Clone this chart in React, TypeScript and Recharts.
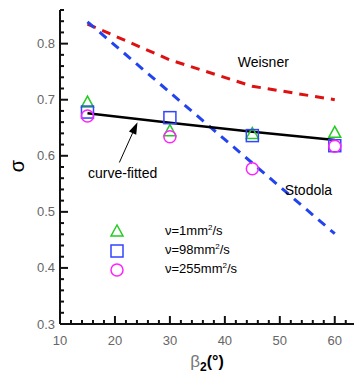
import {
  ComposedChart, Line, Scatter, XAxis, YAxis, ReferenceDot, ReferenceLine, Label,
} from 'recharts'

// blade outlet angle beta2 (deg)
const beta2 = [15, 30, 45, 60]

// correlations
const weisner = [0.835, 0.771, 0.724, 0.7]
const stodolaX = [15, 60]
const stodola = [0.839, 0.461]
const curveFitted = [0.676, 0.659, 0.643, 0.628]

// measured slip factor for three viscosities
const nu1 = [0.694, 0.643, 0.638, 0.64]
const nu98 = [0.678, 0.668, 0.636, 0.618]
const nu255 = [0.671, 0.634, 0.577, 0.617]

const xTicks = [10, 12, 14, 16, 18, 20, 22, 24, 26, 28, 30, 32, 34, 36, 38, 40, 42, 44, 46, 48, 50, 52, 54, 56, 58, 60, 62]
const yTicks = [0.3, 0.32, 0.34, 0.36, 0.38, 0.4, 0.42, 0.44, 0.46, 0.48, 0.5, 0.52, 0.54, 0.56, 0.58, 0.6, 0.62, 0.64, 0.66, 0.68, 0.7, 0.72, 0.74, 0.76, 0.78, 0.8, 0.82, 0.84, 0.86]

const toPts = (xs: number[], ys: number[]) => xs.map((x, i) => ({ x, y: ys[i] }))

const FONT = '"Liberation Sans", Arial, sans-serif'

const Triangle = ({ cx, cy }: any) => (
  <polygon points={`${cx},${cy - 7} ${cx - 6},${cy + 4} ${cx + 6},${cy + 4}`} fill="none" stroke="#22cc22" strokeWidth={1.5} />
)
const Square = ({ cx, cy }: any) => (
  <rect x={cx - 6} y={cy - 6} width={12} height={12} fill="none" stroke="#3344ff" strokeWidth={1.5} />
)
const Circle = ({ cx, cy }: any) => (
  <circle cx={cx} cy={cy} r={6} fill="none" stroke="#ff22ff" strokeWidth={1.5} />
)

const YTick = ({ x, y, payload }: any) => {
  const v = payload.value
  const major = Math.abs(v * 10 - Math.round(v * 10)) < 1e-6
  return (
    <g>
      <path d={`M${x},${y}H${x + (major ? 8 : 4)}`} stroke="#111" strokeWidth={2} fill="none" />
      {major && (
        <text x={x - 5} y={y} textAnchor="end" dominantBaseline="central" fill="#666" fontSize={13} fontFamily={FONT}>
          {v.toFixed(1)}
        </text>
      )}
    </g>
  )
}

const XTick = ({ x, y, payload }: any) => {
  const v = payload.value
  const major = v % 10 === 0
  return (
    <g>
      <path d={`M${x},${y}V${y - (major ? 8 : 4)}`} stroke="#111" strokeWidth={2} fill="none" />
      {major && (
        <text x={x} y={y + 16} textAnchor="middle" dominantBaseline="central" fill="#666" fontSize={13} fontFamily={FONT}>
          {v}
        </text>
      )}
    </g>
  )
}

const Arrow = ({ x1, y1, x2, y2 }: any) => {
  const ang = Math.atan2(y2 - y1, x2 - x1)
  const len = 12
  const w = 4
  const bx = x2 - len * Math.cos(ang)
  const by = y2 - len * Math.sin(ang)
  const px = -Math.sin(ang) * w
  const py = Math.cos(ang) * w
  return (
    <g>
      <path d={`M${x1},${y1}L${bx},${by}`} stroke="#000" strokeWidth={1} fill="none" />
      <polygon points={`${x2},${y2} ${bx + px},${by + py} ${bx - px},${by - py}`} fill="#000" />
    </g>
  )
}

const legendItems = [
  { label: '1', Shape: Triangle },
  { label: '98', Shape: Square },
  { label: '255', Shape: Circle },
]

export default function App() {
  return (
    <div style={{ position: 'absolute', left: 0, top: 0, width: 354, height: 376, background: '#fff' }}>
      <ComposedChart width={354} height={376} margin={{ top: 10, right: 0, bottom: 0, left: 0 }}>
        <XAxis
          type="number"
          dataKey="x"
          domain={[10, 63.5]}
          ticks={xTicks}
          interval={0}
          tick={<XTick />}
          tickLine={false}
          tickSize={0}
          tickMargin={0}
          height={52}
          axisLine={{ stroke: '#111', strokeWidth: 2 }}
          allowDataOverflow
        >
          <Label
            content={() => (
              <text x={207} y={367} fontFamily={FONT} textAnchor="middle">
                <tspan fill="#777" fontSize={17}>β</tspan>
                <tspan fill="#000" fontSize={12} fontWeight="bold" dy={4}>2</tspan>
                <tspan fill="#000" fontSize={16} fontWeight="bold" dy={-4}>(°)</tspan>
              </text>
            )}
          />
        </XAxis>
        <YAxis
          type="number"
          domain={[0.3, 0.86]}
          ticks={yTicks}
          interval={0}
          tick={<YTick />}
          tickLine={false}
          tickSize={0}
          tickMargin={0}
          width={60}
          axisLine={{ stroke: '#111', strokeWidth: 2 }}
          allowDataOverflow
        >
          <Label
            content={() => (
              <text
                x={17}
                y={166}
                transform="rotate(-90 17 166)"
                textAnchor="middle"
                dominantBaseline="central"
                fontFamily={FONT}
                fontSize={20}
                fill="#000"
              >
                σ
              </text>
            )}
          />
        </YAxis>

        <Line
          data={toPts(beta2, weisner)}
          dataKey="y"
          type="linear"
          stroke="#dd1111"
          strokeWidth={3}
          strokeDasharray="9 7"
          dot={false}
          isAnimationActive={false}
        />
        <Line
          data={toPts(stodolaX, stodola)}
          dataKey="y"
          type="linear"
          stroke="#2244ee"
          strokeWidth={3}
          strokeDasharray="9 7"
          dot={false}
          isAnimationActive={false}
        />
        <Line
          data={toPts(beta2, curveFitted)}
          dataKey="y"
          type="linear"
          stroke="#000"
          strokeWidth={2.5}
          dot={false}
          isAnimationActive={false}
        />

        <Scatter data={toPts(beta2, nu1)} dataKey="y" shape={<Triangle />} isAnimationActive={false} />
        <Scatter data={toPts(beta2, nu98)} dataKey="y" shape={<Square />} isAnimationActive={false} />
        <Scatter data={toPts(beta2, nu255)} dataKey="y" shape={<Circle />} isAnimationActive={false} />

        <ReferenceDot x={47} y={0.767} r={0} fill="none" stroke="none"
          label={{ value: 'Weisner', position: 'center', fill: '#000', fontSize: 14, fontFamily: FONT }} />
        <ReferenceDot x={55.2} y={0.539} r={0} fill="none" stroke="none"
          label={{ value: 'Stodola', position: 'center', fill: '#000', fontSize: 14, fontFamily: FONT }} />
        <ReferenceDot x={21.4} y={0.57} r={0} fill="none" stroke="none"
          label={{ value: 'curve-fitted', position: 'center', fill: '#000', fontSize: 14, fontFamily: FONT }} />
        <ReferenceLine
          segment={[{ x: 20.8, y: 0.588 }, { x: 24.1, y: 0.66 }]}
          shape={<Arrow />}
        />
      </ComposedChart>
      <div style={{ position: 'absolute', left: 109, top: 221, fontFamily: FONT, fontSize: 13, color: '#000' }}>
        {legendItems.map(({ label, Shape }) => (
          <div key={label} style={{ display: 'flex', alignItems: 'center', height: 19 }}>
            <svg width={16} height={16} style={{ marginRight: 40 }}>
              <Shape cx={8} cy={9} />
            </svg>
            <span>
              ν={label}mm<sup style={{ fontSize: 8 }}>2</sup>/s
            </span>
          </div>
        ))}
      </div>
    </div>
  )
}
